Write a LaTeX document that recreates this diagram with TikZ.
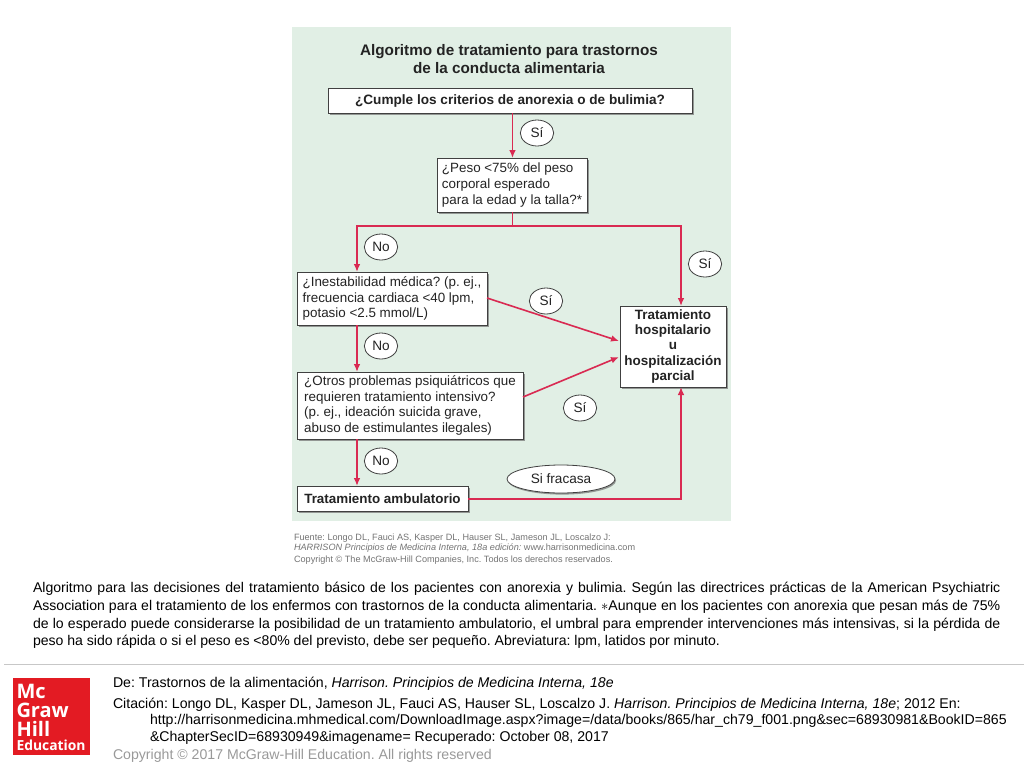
\documentclass[tikz,border=0pt]{standalone}
\usepackage{fontspec}
\setmainfont{Liberation Sans}
\newfontfamily\logofont{Open Sans}
\usetikzlibrary{arrows.meta,shapes.geometric,shadows}
\definecolor{panelgreen}{HTML}{E1EFE5}
\definecolor{flowred}{HTML}{D92A52}
\definecolor{inkgray}{HTML}{232323}
\definecolor{logored}{HTML}{E31B23}
\tikzset{
    every node/.style={inner sep=0pt, outer sep=0pt, text=inkgray}
}
\tikzset{
    flowbox/.style 2 args={draw=black!75, fill=white, line width=.7pt, anchor=north west,
    	align=left, minimum width=#1*.75pt, minimum height=#2*.75pt,
    	font=\fontsize{10.05}{11.7}\selectfont,
    	drop shadow={shadow xshift=1.2pt, shadow yshift=-1.2pt, fill=black!55, opacity=.7}},
    answer/.style={ellipse, draw=black!75, fill=white, line width=.6pt, minimum width=25pt,
    	minimum height=19.5pt, font=\fontsize{10.2}{11.5}\selectfont},
    flow/.style={draw=flowred, line width=1.2pt, >={Latex[length=6pt,width=5pt]}},
    plain/.style={anchor=north west, align=left}
}
\begin{document}
\frenchspacing
\begin{tikzpicture}[x=.75pt, y=-.75pt]
  \useasboundingbox (0,0) rectangle (1024,768);
  \node (panel) [anchor=north west, fill=panelgreen, minimum width=329.25pt, minimum height=370.5pt] at (292,27) {};

  \node (title) [align=center, font=\fontsize{11.45}{14}\selectfont\bfseries] at (509,59) {Algoritmo de tratamiento para trastornos\\de la conducta alimentaria};

  \node (criteria) [flowbox={364}{25}, font=\fontsize{10.2}{12}\selectfont\bfseries] at (328,88) {¿Cumple los criterios de anorexia o de bulimia?};
  \node (weight) [flowbox={150}{54}] at (437,158) {¿Peso <75\% del peso\\corporal esperado\\para la edad y la talla?*};
  \node (unstable) [flowbox={190}{53}] at (297,272) {¿Inestabilidad médica? (p. ej.,\\frecuencia cardiaca <40 lpm,\\potasio <2.5 mmol/L)};
  \node (other) [flowbox={226}{67}] at (297,372) {¿Otros problemas psiquiátricos que\\requieren tratamiento intensivo?\\(p. ej., ideación suicida grave,\\abuso de estimulantes ilegales)};
  \node (outpatient) [flowbox={171}{25}, font=\fontsize{10.05}{12}\selectfont\bfseries] at (297,486) {Tratamiento ambulatorio};
  \node (hospital) [flowbox={106}{81}, align=center, font=\fontsize{10.1}{11.55}\selectfont\bfseries] at (620,306) {Tratamiento\\hospitalario\\u\\hospitalización\\parcial};

  \node (yes1) [answer] at (537,133) {Sí};
  \node (no1) [answer] at (381,247) {No};
  \node (yes2) [answer] at (705,264) {Sí};
  \node (yes3) [answer] at (546,301) {Sí};
  \node (no2) [answer] at (381,346) {No};
  \node (yes4) [answer] at (580,408) {Sí};
  \node (no3) [answer] at (381,461) {No};
  \node (fail) [answer, minimum width=81pt, minimum height=21pt, drop shadow={shadow xshift=.8pt, shadow yshift=-1.2pt, fill=black!55, opacity=.7}] at (561,479) {Si fracasa};

  \coordinate (branch) at (512.5,226);
  \coordinate (unstableTop) at (357,272);
  \coordinate (hospitalTop) at (681,306);
  \coordinate (hospitalLow) at (681,387);
  \coordinate (unstableOut) at (487,298);
  \coordinate (hospitalA) at (619,341);
  \coordinate (otherOut) at (523,397);
  \coordinate (hospitalB) at (619,357);
  \coordinate (otherTop) at (357,372);
  \coordinate (otherLow) at (357,439);
  \coordinate (unstableLow) at (357,325);
  \coordinate (outpatientTop) at (357,486);
  \coordinate (outpatientOut) at (468,499);

  \draw [flow, ->] (branch |- criteria.south) -- (branch |- weight.north);
  \draw [flow] (branch |- weight.south) -- (branch);
  \draw [flow, ->] (branch) -| (unstableTop);
  \draw [flow, ->] (branch) -| (hospitalTop);
  \draw [flow, ->] (unstableOut) -- (hospitalA);
  \draw [flow, ->] (otherOut) -- (hospitalB);
  \draw [flow, ->] (unstableLow) -- (otherTop);
  \draw [flow, ->] (otherLow) -- (outpatientTop);
  \draw [flow, ->] (outpatientOut) -| (hospitalLow);

  \node (source) [plain, text=black!55, font=\fontsize{6.85}{7.4}\selectfont] at (294,534) {Fuente: Longo DL, Fauci AS, Kasper DL, Hauser SL, Jameson JL, Loscalzo J:\\\textit{HARRISON Principios de Medicina Interna, 18a edición:} www.harrisonmedicina.com\\[1.6pt]Copyright © The McGraw-Hill Companies, Inc. Todos los derechos reservados.};

  \node (caption) [anchor=north west, text width=725.5pt, align=justify, text=black, font=\fontsize{10.55}{13.4}\selectfont] at (33,582) {Algoritmo para las decisiones del tratamiento básico de los pacientes con anorexia y bulimia. Según las directrices prácticas de la American Psychiatric\linebreak Association para el tratamiento de los enfermos con trastornos de la conducta alimentaria. $\ast$Aunque en los pacientes con anorexia que pesan más de 75\%\linebreak de lo esperado puede considerarse la posibilidad de un tratamiento ambulatorio, el umbral para emprender intervenciones más intensivas, si la pérdida de\linebreak peso ha sido rápida o si el peso es <80\% del previsto, debe ser pequeño. Abreviatura: lpm, latidos por minuto.};

  \node (rule) [anchor=north west, fill=black!22, minimum width=765pt, minimum height=1.3pt] at (4,663.5) {};

  \node (logo) [anchor=north west, fill=logored, minimum width=58pt, minimum height=58pt] at (12.7,678) {};
  \node (logotext) [plain, text=white, font=\logofont\bfseries\fontsize{15}{14.5}\selectfont] at (16.5,684) {Mc\\Graw\\Hill};
  \node (logoedu) [plain, text=white, font=\logofont\bfseries\fontsize{10.4}{11}\selectfont] at (16.5,740) {Education};

  \node (chapter) [plain, text=black, font=\fontsize{10.6}{12}\selectfont] at (113,677) {De: Trastornos de la alimentación, \textit{Harrison. Principios de Medicina Interna, 18e}};
  \node (citation) [plain, text=black, font=\fontsize{10.6}{12}\selectfont] at (113,698.5) {Citación: Longo DL, Kasper DL, Jameson JL, Fauci AS, Hauser SL, Loscalzo J. \textit{Harrison. Principios de Medicina Interna, 18e}; 2012 En:};
  \node (link) [plain, text=black, font=\fontsize{10.6}{12.8}\selectfont] at (150,714.5) {http://harrisonmedicina.mhmedical.com/DownloadImage.aspx?image=/data/books/865/har\_ch79\_f001.png\&sec=68930981\&BookID=865\\\&ChapterSecID=68930949\&imagename= Recuperado: October 08, 2017};
  \node (copyright) [plain, text=black!40, font=\fontsize{10.6}{12}\selectfont] at (113,749) {Copyright © 2017 McGraw-Hill Education. All rights reserved};
\end{tikzpicture}
\end{document}
